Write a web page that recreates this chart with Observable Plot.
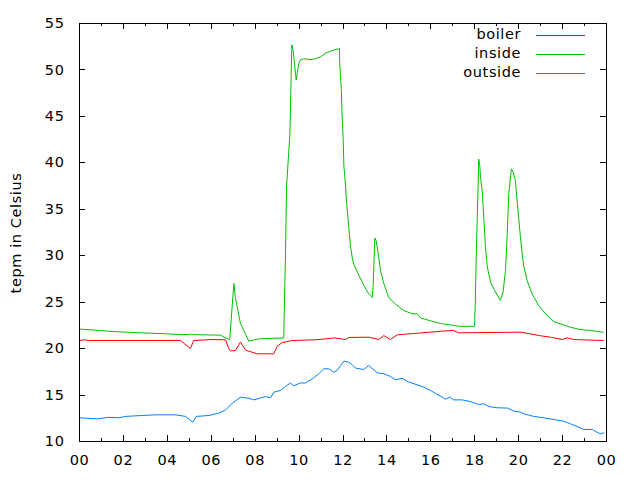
<!DOCTYPE html>
<html>
<head>
<meta charset="utf-8">
<script src="https://cdn.jsdelivr.net/npm/d3@7"></script>
<script src="https://cdn.jsdelivr.net/npm/@observablehq/plot@0.6"></script>
<style>
  html, body { margin: 0; padding: 0; background: #fff; }
  #chart svg { display: block; }
</style>
</head>
<body>
<div id="chart"></div>
<script>
// ---- data (time in hours of the day, temperature in °C) ----
const seriesNames = ["boiler", "inside", "outside"];
const seriesColors = ["#ff0000", "#00c000", "#0080ff"];
const yLabel = "tepm in Celsius";
const xTickValues = [0, 2, 4, 6, 8, 10, 12, 14, 16, 18, 20, 22, 24];
const xTickLabels = ["00", "02", "04", "06", "08", "10", "12", "14", "16", "18", "20", "22", "00"];
const yTickValues = [10, 15, 20, 25, 30, 35, 40, 45, 50, 55];

const boilerT = [0, 0.27, 0.4, 4.6, 5.05, 5.2, 6.04, 6.65, 6.8, 6.88, 7.1, 7.33, 7.56, 7.71, 8.09, 8.85, 9.0, 9.23, 9.69, 10.75, 11.43, 11.58, 12.11, 12.26, 13.17, 13.63, 13.86, 14.16, 14.47, 15.07, 15.98, 16.44, 17.04, 17.27, 20.08, 20.5, 21.0, 21.45, 21.98, 22.21, 22.51, 22.81, 23.85];
const boilerV = [20.87, 20.95, 20.87, 20.87, 20.0, 20.87, 20.98, 20.95, 20.0, 19.75, 19.8, 20.7, 19.85, 19.72, 19.44, 19.44, 20.25, 20.65, 20.87, 20.95, 21.1, 21.16, 20.98, 21.2, 21.23, 20.98, 21.4, 20.98, 21.48, 21.6, 21.77, 21.87, 21.95, 21.7, 21.77, 21.6, 21.38, 21.23, 20.98, 21.16, 20.98, 20.95, 20.87];

const insideT = [0, 0.96, 1.41, 2.78, 3.92, 4.74, 5.1, 5.2, 6.42, 6.79, 6.84, 6.95, 7.03, 7.1, 7.33, 7.48, 7.71, 8.15, 9.3, 9.38, 9.43, 9.58, 9.67, 9.73, 9.87, 9.91, 9.99, 10.06, 10.21, 10.6, 10.97, 11.2, 11.58, 11.84, 11.85, 11.92, 11.96, 12.01, 12.04, 12.11, 12.16, 12.22, 12.26, 12.34, 12.42, 12.49, 12.72, 12.95, 13.17, 13.33, 13.37, 13.45, 13.51, 13.58, 13.71, 13.86, 14.08, 14.39, 14.77, 15.15, 15.38, 15.53, 15.98, 16.44, 16.89, 17.27, 17.99, 18.02, 18.06, 18.11, 18.16, 18.18, 18.23, 18.26, 18.34, 18.41, 18.49, 18.57, 18.72, 18.94, 19.17, 19.29, 19.4, 19.48, 19.55, 19.67, 19.75, 19.85, 19.93, 20.0, 20.08, 20.16, 20.23, 20.39, 20.61, 20.92, 21.3, 21.6, 22.05, 22.36, 22.81, 23.27, 23.72, 23.85];
const insideV = [22.1, 21.95, 21.85, 21.7, 21.6, 21.5, 21.55, 21.5, 21.45, 21.0, 20.95, 24.5, 27.0, 25.5, 22.7, 21.95, 20.8, 21.05, 21.15, 30.0, 37.5, 43.0, 52.7, 52.1, 48.9, 49.6, 50.7, 51.1, 51.2, 51.1, 51.4, 51.8, 52.15, 52.3, 50.8, 48.0, 45.1, 42.4, 39.7, 37.7, 35.8, 34.2, 33.1, 31.1, 29.8, 29.1, 27.9, 26.8, 25.9, 25.5, 26.6, 31.9, 31.6, 30.6, 28.4, 27.0, 25.5, 24.8, 24.1, 23.75, 23.75, 23.3, 23.0, 22.7, 22.55, 22.4, 22.4, 24.6, 29.1, 33.8, 38.1, 40.4, 39.7, 38.45, 37.0, 34.1, 30.9, 28.8, 27.15, 26.1, 25.2, 26.1, 28.4, 32.4, 36.7, 39.35, 39.0, 38.1, 35.9, 34.1, 32.0, 30.2, 28.9, 27.3, 25.9, 24.6, 23.55, 22.9, 22.55, 22.3, 22.05, 21.95, 21.8, 21.75];

const outsideT = [0, 0.81, 1.33, 1.79, 2.09, 2.86, 3.46, 4.37, 4.83, 5.16, 5.31, 5.89, 6.34, 6.65, 6.95, 7.33, 7.71, 7.94, 8.47, 8.7, 8.85, 9.15, 9.38, 9.61, 9.76, 10.06, 10.29, 10.6, 10.9, 11.12, 11.35, 11.58, 11.73, 11.89, 12.04, 12.26, 12.42, 12.57, 12.95, 13.17, 13.4, 13.56, 13.86, 14.16, 14.39, 14.69, 15.0, 15.38, 15.68, 15.98, 16.2, 16.5, 16.67, 16.86, 17.04, 17.43, 17.8, 18.18, 18.41, 18.64, 19.02, 19.48, 19.78, 20.08, 20.23, 20.69, 21.14, 21.6, 22.05, 22.36, 22.74, 22.96, 23.35, 23.57, 23.72, 23.88];
const outsideV = [12.55, 12.44, 12.6, 12.55, 12.7, 12.8, 12.87, 12.87, 12.7, 12.08, 12.7, 12.8, 13.05, 13.4, 14.1, 14.77, 14.66, 14.48, 14.84, 14.7, 15.3, 15.5, 15.92, 16.3, 16.0, 16.3, 16.3, 16.75, 17.29, 17.83, 17.83, 17.46, 17.64, 18.18, 18.65, 18.54, 18.26, 17.9, 17.75, 18.18, 17.72, 17.4, 17.29, 17.0, 16.64, 16.8, 16.4, 16.1, 15.85, 15.5, 15.2, 14.8, 14.55, 14.77, 14.48, 14.48, 14.3, 13.98, 14.05, 13.77, 13.63, 13.6, 13.27, 13.16, 12.98, 12.7, 12.55, 12.37, 12.19, 11.9, 11.54, 11.3, 11.3, 11.0, 10.83, 10.93];

(function () {
// ---- build table ----
const toRows = (name, T, V) => T.map((t, i) => ({series: name, hour: t, temp: V[i]}));
const rows = [
  ...toRows("boiler", boilerT, boilerV),
  ...toRows("inside", insideT, insideV),
  ...toRows("outside", outsideT, outsideV)
];

const W = 640, H = 480;
const mL = 79, mR = 34, mT = 23, mB = 39;
const FONT = "DejaVu Sans, Verdana, sans-serif";
const FS = 14.5, LS = "0.6px";

const plot = Plot.plot({
  width: W,
  height: H,
  marginLeft: mL,
  marginRight: mR,
  marginTop: mT,
  marginBottom: mB,
  style: {fontFamily: FONT, fontSize: FS + "px", color: "#000", background: "#fff", letterSpacing: LS},
  x: {domain: [0, 24]},
  y: {domain: [10, 55]},
  color: {domain: seriesNames, range: seriesColors},
  marks: [
    Plot.axisX({ticks: xTickValues, tickSize: 0, tickPadding: 13,
      tickFormat: d => xTickLabels[xTickValues.indexOf(d)], label: null, fontSize: FS}),
    Plot.axisY({ticks: yTickValues, tickSize: 0, tickPadding: 15, label: null, fontSize: FS}),
    Plot.line(rows, {x: "hour", y: "temp", z: "series", stroke: "series", strokeWidth: 1}),
    Plot.frame({stroke: "#000", strokeWidth: 1})
  ]
});

document.getElementById("chart").appendChild(plot);

// ---- gnuplot-style inward ticks, y label, legend ----
const svg = d3.select(plot);
const sx = plot.scale("x"), sy = plot.scale("y");
const fl = mL, fr = W - mR, ft = mT, fb = H - mB;
const g = svg.append("g").attr("stroke", "#000").attr("stroke-width", 1);
for (let h = 0; h <= 24; h++) {
  const x = Math.round(sx.apply(h)) + 0.5;
  const len = h % 2 === 0 ? 6 : 3;
  g.append("line").attr("x1", x).attr("x2", x).attr("y1", fb).attr("y2", fb - len);
  g.append("line").attr("x1", x).attr("x2", x).attr("y1", ft).attr("y2", ft + len);
}
for (const v of yTickValues) {
  const y = Math.round(sy.apply(v)) + 0.5;
  g.append("line").attr("x1", fl).attr("x2", fl + 6).attr("y1", y).attr("y2", y);
  g.append("line").attr("x1", fr).attr("x2", fr - 6).attr("y1", y).attr("y2", y);
}

svg.append("text")
  .attr("transform", `translate(17,${(ft + fb) / 2 + 1}) rotate(-90)`)
  .attr("text-anchor", "middle")
  .attr("dominant-baseline", "middle")
  .attr("font-family", FONT)
  .attr("font-size", FS)
  .attr("letter-spacing", LS)
  .attr("fill", "#000")
  .text(yLabel);

const leg = svg.append("g");
seriesNames.forEach((name, i) => {
  const y = 35 + i * 19;
  leg.append("text")
    .attr("x", 521).attr("y", y)
    .attr("text-anchor", "end")
    .attr("dominant-baseline", "middle")
    .attr("font-family", FONT)
    .attr("font-size", FS)
    .attr("letter-spacing", LS)
    .attr("fill", "#000")
    .text(name);
  leg.append("line")
    .attr("x1", 536).attr("x2", 585)
    .attr("y1", y + 0.5).attr("y2", y + 0.5)
    .attr("stroke", seriesColors[i]).attr("stroke-width", 1);
});
})();
</script>
</body>
</html>
